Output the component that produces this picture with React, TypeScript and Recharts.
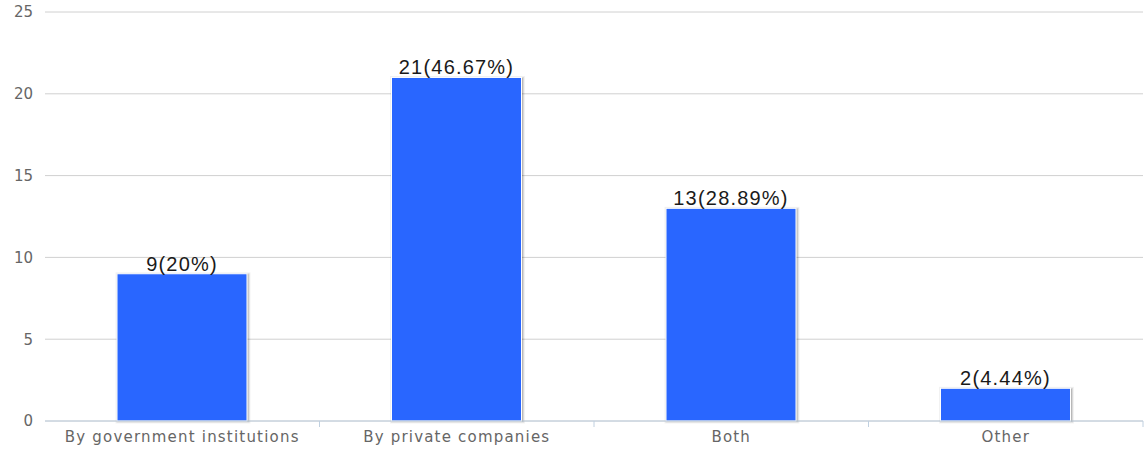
import React from 'react';
import { BarChart, Bar, XAxis, YAxis, CartesianGrid, LabelList } from 'recharts';

const categories = ['By government institutions', 'By private companies', 'Both', 'Other'];
const counts = [9, 21, 13, 2];
const percents = ['20%', '46.67%', '28.89%', '4.44%'];
const yTicks = [0, 5, 10, 15, 20, 25];

const data = categories.map((name, i) => ({ name, value: counts[i], pct: percents[i] }));

const W = 1146;
const H = 451;
const LEFT = 45;
const RIGHT = 3;
const BAND = (W - LEFT - RIGHT) / categories.length;

const BarShape = (props: any) => {
  const { x, y, width, height } = props;
  if (!height || height <= 0) return null;
  return (
    <g>
      {/* soft shadow, offset down-right */}
      <rect x={x + 1} y={y + 1} width={width} height={height - 1} fill="none" stroke="rgba(0,0,0,0.05)" strokeWidth={5} />
      <rect x={x + 1} y={y + 1} width={width} height={height - 1} fill="none" stroke="rgba(0,0,0,0.1)" strokeWidth={3} />
      <rect x={x + 1} y={y + 1} width={width} height={height - 1} fill="none" stroke="rgba(0,0,0,0.15)" strokeWidth={1} />
      <rect x={x} y={y} width={width} height={height} fill="#2966ff" stroke="#ffffff" strokeWidth={1} />
    </g>
  );
};

const XTick = (props: any) => {
  const { x, y, payload } = props;
  const axisY = y - 8;
  return (
    <g>
      <line x1={x + BAND / 2} x2={x + BAND / 2} y1={axisY} y2={axisY + 6} stroke="#c0d0e0" strokeWidth={1} />
      <text
        x={x}
        y={y + 13}
        textAnchor="middle"
        fill="#666666"
        fontFamily="'DejaVu Sans', sans-serif"
        fontSize={15}
        letterSpacing={1.2}
      >
        {payload.value}
      </text>
    </g>
  );
};

const BarLabel = (props: any) => {
  const { x, y, width, index } = props;
  return (
    <text
      x={x + width / 2}
      y={y - 3}
      textAnchor="middle"
      fill="#1a1a1a"
      fontFamily="'Liberation Sans', Arial, sans-serif"
      fontSize={20}
      letterSpacing={1.2}
    >
      {`${counts[index]}(${percents[index]})`}
    </text>
  );
};

export default function App() {
  return (
    <div style={{ position: 'absolute', left: 0, top: 0, width: W, height: H, background: '#fff' }}>
      <BarChart width={W} height={H} data={data} margin={{ top: 12, right: RIGHT, bottom: 0, left: 0 }}>
        <CartesianGrid vertical={false} stroke="#d0d0d0" strokeWidth={1} />
        <YAxis
          width={LEFT}
          domain={[0, 25]}
          ticks={yTicks}
          axisLine={false}
          tickLine={false}
          tickMargin={6}
          tick={{ fill: '#666666', fontSize: 15, fontFamily: "'DejaVu Sans', sans-serif" }}
        />
        <XAxis
          dataKey="name"
          height={30}
          axisLine={{ stroke: '#c0d0e0', strokeWidth: 1 }}
          tickLine={false}
          tick={<XTick />}
          interval={0}
        />
        <Bar dataKey="value" barSize={130} shape={<BarShape />} isAnimationActive={false}>
          <LabelList dataKey="value" content={<BarLabel />} />
        </Bar>
      </BarChart>
    </div>
  );
}
